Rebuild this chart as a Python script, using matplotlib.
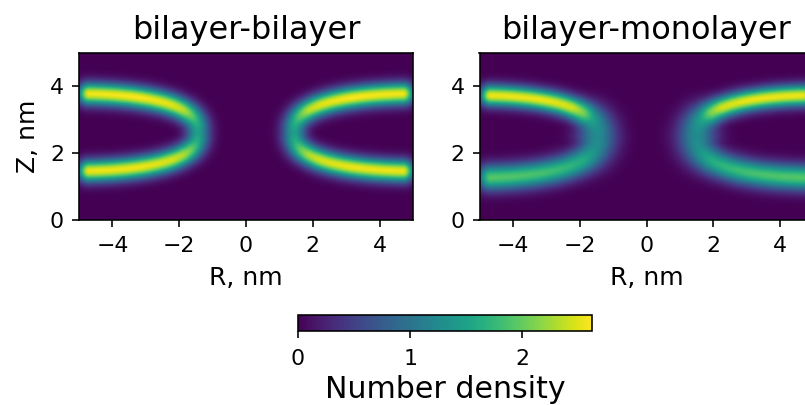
import numpy as np
import matplotlib.pyplot as plt

panel_titles = ["bilayer-bilayer", "bilayer-monolayer"]

# leaflet centre line of each panel: half superellipse, mirrored about R = 0 (nm)
arc_center_r = [5.5, 5.5]
arc_center_z = [2.62, 2.5]
arc_semi_r = [4.05, 4.0]
arc_semi_z_top = [1.18, 1.25]
arc_semi_z_bot = [1.17, 1.25]
arc_power = [2.5, 2.5]
r_max = 4.72   # outermost bin with data

# peak number density and band width along the arc,
# angle 90 = upper leaflet, 180 = tip of the pore rim, 270 = lower leaflet
arc_angles = [90, 120, 140, 150, 158, 168, 180, 192, 202, 210, 220, 240, 270]
density_bb = [2.55, 2.6, 2.5, 2.35, 2.05, 1.7, 1.45, 1.7, 2.05, 2.3, 2.45, 2.55, 2.55]
width_bb = [0.23, 0.23, 0.23, 0.23, 0.24, 0.25, 0.26, 0.25, 0.24, 0.23, 0.23, 0.23, 0.23]
density_bm = [2.55, 2.55, 2.45, 2.1, 1.6, 1.35, 1.25, 1.3, 1.45, 1.6, 1.7, 1.85, 1.95]
width_bm = [0.22, 0.22, 0.23, 0.26, 0.31, 0.37, 0.41, 0.37, 0.33, 0.3, 0.28, 0.27, 0.27]

panel_density = [density_bb, density_bm]
panel_width = [width_bb, width_bm]

r_grid = np.linspace(-5, 5, 201)
z_grid = np.linspace(0, 5, 101)
vmax = 2.62


def density_map(i):
    t = np.radians(np.linspace(90, 270, 541))
    e = 2 / arc_power[i]
    b = np.where(t <= np.pi, arc_semi_z_top[i], arc_semi_z_bot[i])
    cr = arc_center_r[i] - arc_semi_r[i] * np.abs(np.cos(t)) ** e
    cz = arc_center_z[i] + b * np.sign(np.sin(t)) * np.abs(np.sin(t)) ** e
    peak = np.interp(np.degrees(t), arc_angles, panel_density[i])
    sig = np.interp(np.degrees(t), arc_angles, panel_width[i])
    keep = cr <= r_max
    cr, cz, peak, sig = cr[keep], cz[keep], peak[keep], sig[keep]
    RR, ZZ = np.meshgrid(r_grid, z_grid)
    rho = np.zeros_like(RR)
    for side in (1, -1):
        for k in range(len(cr)):
            d2 = (RR - side * cr[k]) ** 2 + (ZZ - cz[k]) ** 2
            rho = np.maximum(rho, peak[k] * np.exp(-d2 / (2 * sig[k] ** 2)))
    return rho


dpi = 144
fig = plt.figure(figsize=(805 / dpi, 405 / dpi), dpi=dpi)
ax_left = [79 / 805, 479.5 / 805]
for i, title in enumerate(panel_titles):
    ax = fig.add_axes([ax_left[i], 185 / 405, 334 / 805, 167 / 405])
    im = ax.imshow(density_map(i), origin='lower', extent=[-5, 5, 0, 5],
                   cmap='viridis', vmin=0, vmax=vmax, interpolation='bilinear')
    ax.set_xticks([-4, -2, 0, 2, 4])
    ax.set_yticks([0, 2, 4])
    ax.tick_params(axis='x', labelsize=11, pad=4.5)
    ax.tick_params(axis='y', labelsize=11, pad=4)
    ax.set_title(title, fontsize=16, pad=7)
    ax.set_xlabel('R, nm', fontsize=12.5, labelpad=5)
    if i == 0:
        ax.set_ylabel('Z, nm', fontsize=12.5, labelpad=5)

cax = fig.add_axes([298 / 805, 74 / 405, 294 / 805, 16 / 405])
cb = fig.colorbar(im, cax=cax, orientation='horizontal', ticks=[0, 1, 2])
cb.ax.tick_params(labelsize=11, pad=5.5)
cb.set_label('Number density', fontsize=15, labelpad=3)

fig.savefig('out.png', dpi=dpi)
